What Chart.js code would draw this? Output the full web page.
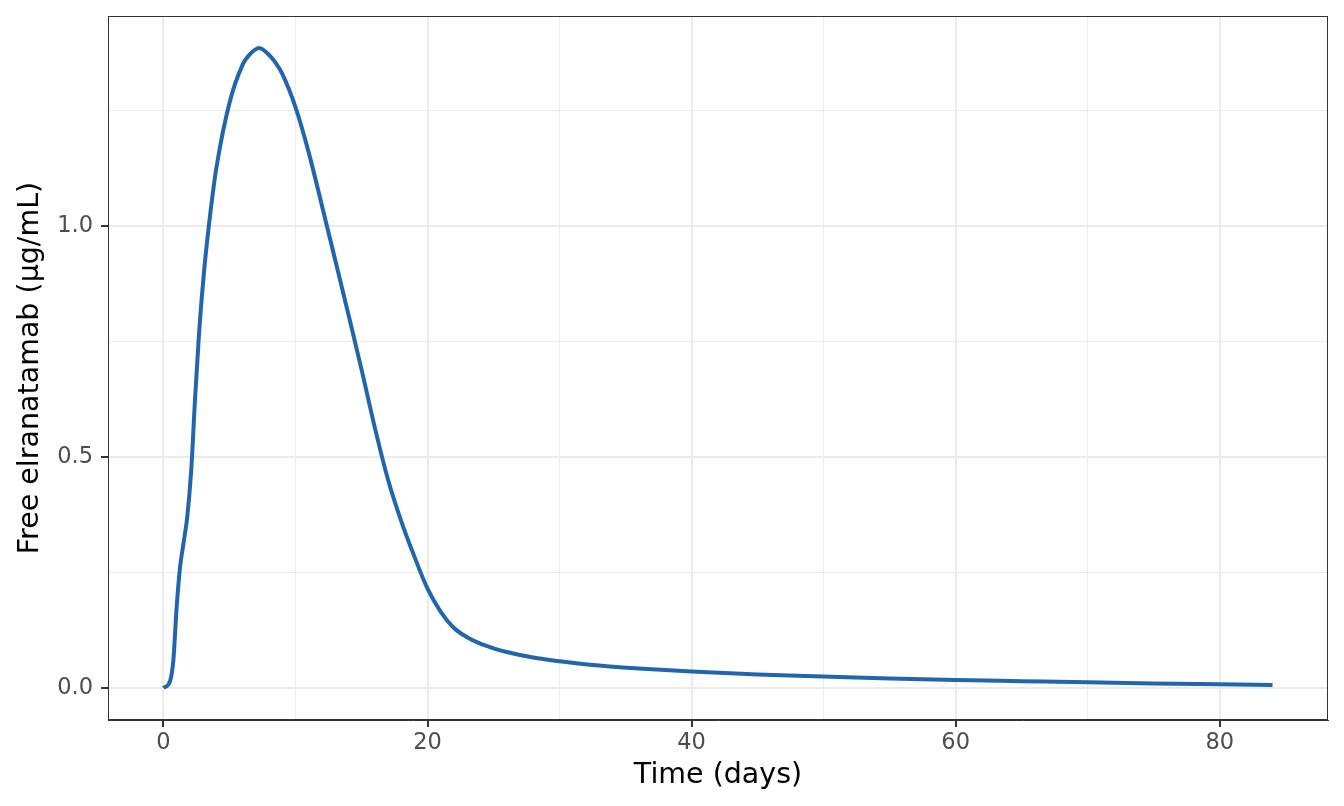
<!DOCTYPE html>
<html>
<head>
<meta charset="utf-8">
<title>Free elranatamab</title>
<script src="https://cdn.jsdelivr.net/npm/chart.js@4.4.1/dist/chart.umd.min.js"></script>
<style>
  html, body { margin: 0; padding: 0; background: #ffffff; }
  #wrap { width: 1344px; height: 806px; position: relative; }
</style>
</head>
<body>
<div id="wrap"><canvas id="pkChart"></canvas></div>
<script>
// Time points (days) and free concentration (ug/mL)
const timeDays = [
    0, 0.5, 0.75, 1.0, 1.25, 1.5, 1.8, 2.1, 2.4, 2.7,
    3.1, 3.6, 4.0, 5.0, 6.0, 6.5, 7.25, 8.0, 8.5,
    9.0, 10.0, 11.0, 12.0, 13.0, 14.0, 15.0, 16.0, 17.0, 18.0,
    19.0, 20.0, 21.0, 22.0, 23.0, 24.0, 25.0, 26.0, 28.0, 30,
    33, 36, 40, 45, 50, 55, 60, 65, 70, 75,
    80, 84
];
const freeConc = [
    0, 0.015, 0.06, 0.175, 0.26, 0.31, 0.37, 0.47, 0.63, 0.77,
    0.91, 1.04, 1.125, 1.267, 1.35, 1.371, 1.386, 1.371, 1.354,
    1.33, 1.258, 1.16, 1.045, 0.928, 0.81, 0.69, 0.565, 0.452, 0.362,
    0.285, 0.215, 0.165, 0.13, 0.11, 0.096, 0.086, 0.078, 0.066, 0.058,
    0.0485, 0.042, 0.0355, 0.0295, 0.025, 0.0207, 0.0173, 0.0148, 0.0123, 0.0100,
    0.0079, 0.0065
];

// Axis ticks (major ones get labels, the others are minor grid lines)
const xTicks = [0, 10, 20, 30, 40, 50, 60, 70, 80];
const xMajor = [0, 20, 40, 60, 80];
const yTicks = [0, 0.25, 0.5, 0.75, 1.0, 1.25];
const yMajor = [0, 0.5, 1.0];

const GRID = '#EBEBEB';
const INK = '#333333';

const points = timeDays.map((t, i) => ({ x: t, y: freeConc[i] }));

// ggplot style 5% expansion
const xSpan = 84 - 0;
const ySpan = 1.386 - 0;

const isMajor = (list, v) => list.some(m => Math.abs(m - v) < 1e-9);

// Top/right panel border
const panelBorder = {
    id: 'panelBorder',
    afterDraw(chart) {
        const { ctx, chartArea: a } = chart;
        ctx.save();
        ctx.strokeStyle = INK;
        ctx.lineWidth = 1;
        ctx.strokeRect(a.left + 0.5, a.top + 0.5, a.right - a.left - 1, a.bottom - a.top - 1);
        ctx.restore();
    }
};

new Chart(document.getElementById('pkChart'), {
    type: 'line',
    data: {
        datasets: [{
            data: points,
            borderColor: '#2166AC',
            borderWidth: 4,
            pointRadius: 0,
            fill: false,
            cubicInterpolationMode: 'monotone'
        }]
    },
    options: {
        responsive: true,
        maintainAspectRatio: false,
        animation: false,
        layout: { padding: { top: 16, right: 16, left: 0, bottom: 0 } },
        plugins: {
            legend: { display: false },
            tooltip: { enabled: false }
        },
        scales: {
            x: {
                type: 'linear',
                min: 0 - xSpan * 0.05,
                max: 84 + xSpan * 0.05,
                afterBuildTicks: s => { s.ticks = xTicks.map(v => ({ value: v })); },
                afterFit: s => { s.height = 86; s.paddingLeft = 0; s.paddingRight = 0; },
                grid: {
                    color: c => GRID,
                    lineWidth: c => isMajor(xMajor, c.tick.value) ? 2 : 1,
                    tickColor: c => isMajor(xMajor, c.tick.value) ? INK : 'rgba(0,0,0,0)',
                    tickLength: 7,
                    tickWidth: 2
                },
                border: { display: true, color: INK, width: 1 },
                ticks: {
                    autoSkip: false,
                    maxRotation: 0,
                    padding: 3,
                    color: '#4D4D4D',
                    font: { family: 'DejaVu Sans', size: 22.5 },
                    callback: v => isMajor(xMajor, v) ? String(v) : ''
                },
                title: {
                    display: true,
                    text: 'Time (days)',
                    color: '#000000',
                    font: { family: 'DejaVu Sans', size: 28.5 },
                    padding: { top: 0, bottom: 13 }
                }
            },
            y: {
                type: 'linear',
                min: 0 - ySpan * 0.05,
                max: 1.386 + ySpan * 0.05,
                afterBuildTicks: s => { s.ticks = yTicks.map(v => ({ value: v })); },
                afterFit: s => { s.width = 108; s.paddingTop = 0; s.paddingBottom = 0; },
                grid: {
                    color: c => GRID,
                    lineWidth: c => isMajor(yMajor, c.tick.value) ? 2 : 1,
                    tickColor: c => isMajor(yMajor, c.tick.value) ? INK : 'rgba(0,0,0,0)',
                    tickLength: 7,
                    tickWidth: 2
                },
                border: { display: true, color: INK, width: 1 },
                ticks: {
                    autoSkip: false,
                    padding: 8,
                    color: '#4D4D4D',
                    font: { family: 'DejaVu Sans', size: 22.5 },
                    callback: v => isMajor(yMajor, v) ? v.toFixed(1) : ''
                },
                title: {
                    display: true,
                    text: 'Free elranatamab (µg/mL)',
                    color: '#000000',
                    font: { family: 'DejaVu Sans', size: 28.5 },
                    padding: { top: 13, bottom: 0 }
                }
            }
        }
    },
    plugins: [panelBorder]
});
</script>
</body>
</html>
